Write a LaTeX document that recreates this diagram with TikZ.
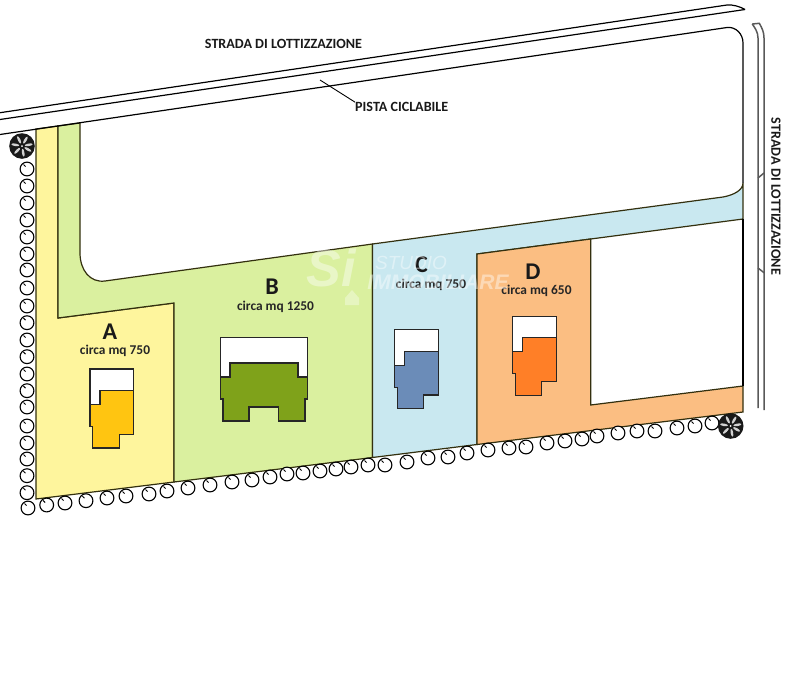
\documentclass[tikz,border=0pt]{standalone}
\usepackage{fontspec}
\setmainfont{Carlito}
\newfontfamily\markfont{Liberation Sans}
\definecolor{lotyellow}{HTML}{FEF59D}
\definecolor{lotgreen}{HTML}{DAF09F}
\definecolor{lotblue}{HTML}{C9E8F0}
\definecolor{lotorange}{HTML}{FBBE82}
\definecolor{edgedark}{HTML}{33300F}
\definecolor{housea}{HTML}{FFC511}
\definecolor{houseb}{HTML}{7FA21A}
\definecolor{housec}{HTML}{6B8CB8}
\definecolor{housed}{HTML}{FF7F27}
\tikzset{
  lot/.style={draw=edgedark, line width=1.2pt, line join=miter},
  roadline/.style={draw=black, line width=1.2pt},
  sideline/.style={draw=black!65, line width=1.5pt},
  house/.style={draw=black!85, line width=1.2pt},
  roadlabel/.style={font=\fontsize{14.1}{16}\selectfont\bfseries, text=black!90, inner sep=0pt},
  lotletter/.style={font=\fontsize{24}{26}\selectfont\bfseries, text=black!90, inner sep=0pt},
  lotarea/.style={font=\fontsize{13.4}{15}\selectfont\bfseries, text=black!85, inner sep=0pt},
  smalltree/.style={draw=black, line width=1.1pt, fill=white},
  watermark/.style={text=white, text opacity=0.42, inner sep=0pt}
}
\begin{document}
\begin{tikzpicture}[x=1pt,y=-1pt]
    \useasboundingbox (0,0) rectangle (787,675);

    % Coloured lots
    \draw[lot, fill=lotyellow] (36,129) -- (58,126) -- (58,318) -- (174,303) -- (174,482) -- (36,499) -- cycle;
    \draw[lot, fill=lotgreen] (58,126) -- (80,123) -- (80,253) .. controls (80,270) and (90,283) .. (105,281)
        -- (372.5,244) -- (372.5,457.5) -- (174,482) -- (174,303) -- (58,318) -- cycle;
    \draw[lot, fill=lotblue] (372.5,244) -- (723,197) .. controls (734,195) and (743,190) .. (743,183)
        -- (743,219) -- (590.7,239) -- (477,254) -- (477,444.5) -- (372.5,457.5) -- cycle;
    \draw[lot, fill=lotorange] (477,254) -- (590.7,239) -- (590.7,405) -- (743,386) -- (743,412) -- (477,444.5) -- cycle;

    % Roads
    \draw[roadline] (0,112.7) -- (727,5) .. controls (733,4.5) and (740,6.5) .. (745,9.5);
    \draw[roadline] (0,119.5) -- (745,9.5);
    \draw[roadline] (0,134.5) -- (727,27.5) .. controls (736,26.5) and (743,34) .. (743,43) -- (743,183);
    \draw[roadline] (743,219) -- (743,386);
    \draw[sideline] (752.3,24) -- (759.3,23.3) .. controls (762,28) and (764,32) .. (764,38) -- (764,410);
    \draw[sideline] (752.3,24) .. controls (755,28) and (758,32) .. (758,38) -- (758,408);
    \draw[sideline] (758,178) -- (764,173);
    \draw[sideline] (758,268) -- (764,272.7);

    % Houses
    \foreach \hx/\hy/\hcol in {90/369/housea, 394.3/329.7/housec, 512.3/316.3/housed} {
        \begin{scope}[shift={(\hx,\hy)}]
            \draw[house, fill=white] (0,0) -- (43.8,0) -- (43.8,21.5) -- (10,21.5) -- (10,35.5) -- (0,35.5) -- cycle;
            \draw[house, fill=\hcol] (10,21.5) -- (43.8,21.5) -- (43.8,65.3) -- (29.3,65.3) -- (29.3,79) -- (2.8,79)
                -- (2.8,57.5) -- (0,57.5) -- (0,35.5) -- (10,35.5) -- cycle;
        \end{scope}
    }
    \draw[house, fill=white] (220.3,337.3) -- (307.3,337.3) -- (307.3,377) -- (220.3,377) -- cycle;
    \draw[house, fill=houseb] (220.3,377) -- (230,377) -- (230,363) -- (298,363) -- (298,377) -- (307.3,377)
        -- (307.3,399) -- (305,399) -- (305,421) -- (278.3,421) -- (278.3,407) -- (249,407) -- (249,421)
        -- (223,421) -- (223,399) -- (220.3,399) -- cycle;

    % Row of trees
    \foreach \tx/\ty in {27/169,27/186,27/203,27/220,27/237,27/254,27/270,27/288,27/306,27/322.7,27/340,27/356.7,
        27/374,27/390.7,27/407,27/426,27/443,27/459,27/475.7,27/492.7,28/508,46.7/505,65/503,86/500.7,107/498,
        126/496,149/494,167/491,188/488,210/485,232/482,252/480,270/477,287/474,303/473,320/471,336/469,351/467,
        368/465,385/465,407/462,428/458,448/457,467/453,488/450,509/448,526/447,547/443,565/441,582/439,597/436,
        618/433,637/431,655/431,677/428,695/426,712/423} {
        \draw[smalltree] (\tx,\ty) circle (6.9);
        \draw[line width=1pt] (\tx-3.5,\ty-4.5) -- (\tx-1.5,\ty-2.5);
    }
    \foreach \tx/\ty in {22/146, 730.7/426} {
        \fill[black!90] (\tx,\ty) circle (12.8);
        \foreach \ang in {10,60,115,170,225,280,330} {
            \fill[black!18, rotate around={\ang:(\tx,\ty)}] (\tx+6.8,\ty) ellipse (4 and 1.3);
        }
        \fill[white] (\tx,\ty) circle (1);
    }

    % Labels
    \node[roadlabel] (northroad) at (283.5,44) {STRADA DI LOTTIZZAZIONE};
    \node[roadlabel, rotate=-90] (eastroad) at (776,196.5) {STRADA DI LOTTIZZAZIONE};
    \node[roadlabel, anchor=west] (pista) at (355,107) {PISTA CICLABILE};
    \coordinate (pistaend) at (320,80);
    \draw[line width=0.9pt] (pistaend) -- (pista.north west);

    \node[lotletter] (lotA) at (110,332) {A};
    \node[lotarea] (areaA) at (115,350.5) {circa mq 750};
    \node[lotletter] (lotB) at (272,287) {B};
    \node[lotarea] (areaB) at (275.5,307) {circa mq 1250};
    \node[lotletter] (lotC) at (421.5,265) {C};
    \node[lotarea] (areaC) at (431,285) {circa mq 750};
    \node[lotletter] (lotD) at (533,272) {D};
    \node[lotarea] (areaD) at (536.5,291) {circa mq 650};

    % Watermark
    \node[watermark, font=\fontsize{52}{54}\selectfont\markfont\itshape\bfseries] (markS) at (331,268) {Si};
    \node[watermark, font=\fontsize{19}{21}\selectfont\markfont\itshape] (markA) at (411,263) {STUDIO};
    \node[watermark, font=\fontsize{21}{23}\selectfont\markfont\itshape\bfseries] (markB) at (438,282) {IMMOBILIARE};
    \fill[white, opacity=0.35] (345,298) -- (352,290) -- (359,298) -- (359,305) -- (345,305) -- cycle;

\end{tikzpicture}
\end{document}
